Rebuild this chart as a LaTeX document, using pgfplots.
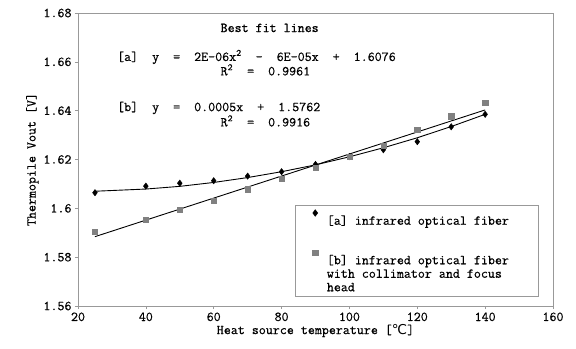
\documentclass[border=0pt]{standalone}
\usepackage{fontspec}
\setmonofont[FakeBold=0.5]{Latin Modern Mono}
\renewcommand{\familydefault}{\ttdefault}
\newfontfamily\dejavu{DejaVu Sans}
\usepackage{pgfplots}
\pgfplotsset{compat=1.18}
\usetikzlibrary{calc}
\definecolor{framegray}{gray}{0.6}
\definecolor{markgray}{gray}{0.5}
\newcommand{\fs}{\ttfamily\bfseries\fontsize{13.6bp}{13.5bp}\selectfont}
\pgfplotsset{lowmark/.style={legend image code/.code={%
  \path (0cm,6bp);
  \draw[mark repeat=2,mark phase=2,##1] plot coordinates {(0cm,0cm) (0.3cm,0cm) (0.6cm,0cm)};}}}
\begin{document}
\begin{tikzpicture}
\begin{axis}[
  name=ax,
  scale only axis,
  width=475bp, height=293bp,
  xmin=20, xmax=160, ymin=1.56, ymax=1.68,
  xtick={20,40,...,160},
  ytick={1.56,1.58,1.6,1.62,1.64,1.66,1.68},
  yticklabels={1.56,1.58,1.6,1.62,1.64,1.66,1.68},
  /pgf/number format/assume math mode=true,
  tick label style={font=\fs},
  label style={font=\fs},
  axis line style={framegray, line width=0.8pt},
  tick style={framegray, line width=0.6pt},
  tick align=outside, major tick length=3bp,
  xtick pos=bottom, ytick pos=left,
  xlabel={Heat source temperature [{\dejavu\mdseries ℃}]},
  ylabel={Thermopile Vout [V]},
  xlabel style={yshift=4bp},
  ylabel style={yshift=-2bp},
  legend style={at={(axis cs:84,1.6014)}, anchor=north west,
    draw=framegray, line width=0.6pt, font=\fs,
    cells={anchor=north west, align=left}, row sep=18bp, column sep=7bp,
    inner ysep=1.5bp, inner xsep=11bp},
]
% trendline [a] (quadratic fit values)
\addplot[black, line width=0.9pt, forget plot] coordinates {
(25,1.6070) (40,1.6079) (50,1.6090) (60,1.6106) (70,1.6126) (80,1.6150)
(90,1.6178) (100,1.6211) (110,1.6248) (120,1.6289) (130,1.6335) (140,1.6385)};
% trendline [b] (linear)
\addplot[black, line width=0.9pt, forget plot] coordinates {(25,1.5884) (140,1.6403)};
% data [a]
\addplot[only marks, mark=diamond*, mark size=3.2bp, black, lowmark] coordinates {
(25,1.6064) (40,1.6091) (50,1.6103) (60,1.6113) (70,1.6132) (80,1.6150)
(90,1.6180) (100,1.6212) (110,1.6240) (120,1.6273) (130,1.6334) (140,1.6385)};
\addlegendentry{[a] infrared optical fiber}
% data [b]
\addplot[only marks, mark=square*, mark size=2.6bp, draw=markgray, fill=markgray, lowmark] coordinates {
(25,1.5904) (40,1.5955) (50,1.5993) (60,1.6031) (70,1.6078) (80,1.6123)
(90,1.6168) (100,1.6212) (110,1.6255) (120,1.6322) (130,1.6377) (140,1.6432)};
\addlegendentry{\makebox[198bp][l]{[b] infrared optical fiber}\\with collimator and focus\\head}
\node[anchor=west, font=\fs] at (axis cs:61,1.6739) {Best fit lines};
\node[anchor=west, font=\fs] at (axis cs:30.5,1.6620) {[a]~ y~ =~ 2E-06x\textsuperscript{2}~ –~ 6E-05x~ +~ 1.6076};
\node[anchor=west, font=\fs] at (axis cs:61,1.6567) {R\textsuperscript{2}~ =~ 0.9961};
\node[anchor=west, font=\fs] at (axis cs:30.5,1.6411) {[b]~ y~ =~ 0.0005x~ +~ 1.5762};
\node[anchor=west, font=\fs] at (axis cs:61,1.6358) {R\textsuperscript{2}~ =~ 0.9916};
\end{axis}
\path[use as bounding box] ($(ax.south west)+(-78bp,-43bp)$) rectangle ($(ax.north east)+(23bp,13bp)$);
\end{tikzpicture}
\end{document}
